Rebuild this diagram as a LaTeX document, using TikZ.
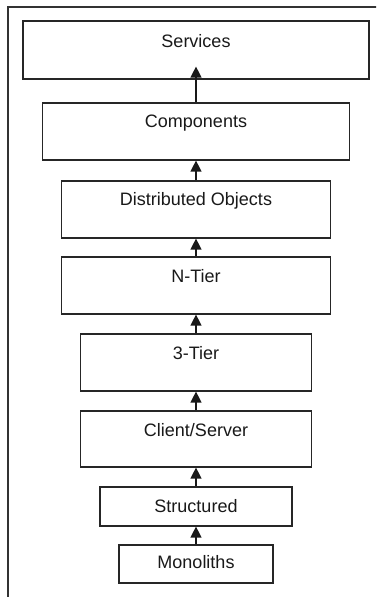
\documentclass[tikz,border=0pt]{standalone}
\usepackage{fontspec}
\setmainfont{Liberation Sans}
\usetikzlibrary{arrows.meta,calc}
\begin{document}
\begin{tikzpicture}[x=1pt,y=-1pt,
  layer/.style={draw=black!85, line width=1.2pt, rectangle, inner sep=0pt, fill=white},
  caption/.style={inner sep=0pt, font=\fontsize{18}{21}\selectfont, text=black!90},
  up/.style={draw=black!90, line width=1.3pt, -{Triangle[length=11pt,width=11pt]}},
  frame/.style={draw=black!80, line width=1.3pt}]
  \useasboundingbox (0,0) rectangle (376,597);
  \clip (0,0) rectangle (376,597);
  \fill[white] (0,0) rectangle (376,597);
  % outer frame, running off the right and bottom edges
  \draw[frame] (8,7) rectangle (400,620);

  % stacked layers, widest at the top
  \node[layer, minimum width=346, minimum height=58] (services)    at (196,50)    {};
  \node[layer, minimum width=307, minimum height=57] (components)  at (196,131.5) {};
  \node[layer, minimum width=269, minimum height=57] (distributed) at (196,209.5) {};
  \node[layer, minimum width=269, minimum height=57] (ntier)       at (196,285.5) {};
  \node[layer, minimum width=231, minimum height=57] (threetier)   at (196,362.5) {};
  \node[layer, minimum width=231, minimum height=56] (clientsrv)   at (196,439)   {};
  \node[layer, minimum width=192, minimum height=39] (structured)  at (196,506.5) {};
  \node[layer, minimum width=154, minimum height=38] (monoliths)   at (196,564)   {};

  % captions near the top of each layer
  \node[caption] (tservices)    at ($(services.north)+(0,21)$)    {Services};
  \node[caption] (tcomponents)  at ($(components.north)+(0,21)$)  {Components};
  \node[caption] (tdistributed) at ($(distributed.north)+(0,20)$) {Distributed Objects};
  \node[caption] (tntier)       at ($(ntier.north)+(0,20)$)       {N-Tier};
  \node[caption] (tthreetier)   at ($(threetier.north)+(0,20)$)   {3-Tier};
  \node[caption] (tclientsrv)   at ($(clientsrv.north)+(0,20)$)   {Client/Server};
  \node[caption] (tstructured)  at ($(structured.north)+(0,20)$)  {Structured};
  \node[caption] (tmonoliths)   at ($(monoliths.north)+(0,18)$)   {Monoliths};

  % evolution arrows
  \coordinate (servicesin) at ($(services.south)+(0,-13)$);
  \draw[up] (components.north)  -- (servicesin);
  \draw[up] (distributed.north) -- (components.south);
  \draw[up] (ntier.north)       -- (distributed.south);
  \draw[up] (threetier.north)   -- (ntier.south);
  \draw[up] (clientsrv.north)   -- (threetier.south);
  \draw[up] (structured.north)  -- (clientsrv.south);
  \draw[up] (monoliths.north)   -- (structured.south);
\end{tikzpicture}
\end{document}
